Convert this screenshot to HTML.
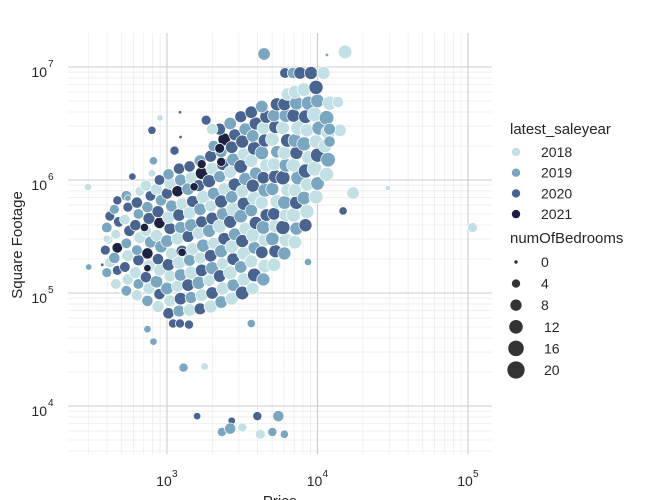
<!DOCTYPE html>
<html><head><meta charset="utf-8">
<style>
body{margin:0;background:#fff;}
svg{display:block;font-family:"Liberation Sans",Arial,sans-serif;}
</style></head>
<body>
<svg id="chart" width="650" height="500" viewBox="0 0 650 500">
  <g id="grid"></g>
  <g id="points"></g>
  <g id="axes"></g>
  <text x="0" y="0" transform="translate(22,245) rotate(-90)" text-anchor="middle" font-size="15" fill="#262626">Square Footage</text>
  <text x="280" y="506" text-anchor="middle" font-size="15" fill="#262626">Price</text>
  <g id="legend"></g>
</svg>
<script>
const logPrice = [
2.60,2.62,2.59,2.61,2.60,2.62,
2.66,2.67,2.65,2.67,2.66,2.68,2.65,2.67,
2.73,2.74,2.72,2.74,2.73,2.75,2.72,2.74,2.73,
2.80,2.81,2.79,2.81,2.80,2.82,2.79,2.81,2.80,2.82,
2.87,2.88,2.86,2.88,2.87,2.89,2.86,2.88,2.87,2.89,2.86,
2.94,2.95,2.93,2.95,2.94,2.96,2.93,2.95,2.94,2.96,2.93,2.95,
3.01,3.02,3.00,3.02,3.01,3.03,3.00,3.02,3.01,3.03,3.00,3.02,3.01,
3.08,3.09,3.07,3.09,3.08,3.10,3.07,3.09,3.08,3.10,3.07,3.09,3.08,
3.15,3.16,3.14,3.16,3.15,3.17,3.14,3.16,3.15,3.17,3.14,3.16,3.15,
3.22,3.23,3.21,3.23,3.22,3.24,3.21,3.23,3.22,3.24,3.21,3.23,3.22,
3.29,3.30,3.28,3.30,3.29,3.31,3.28,3.30,3.29,3.31,3.28,3.30,3.29,3.31,
3.36,3.37,3.35,3.37,3.36,3.38,3.35,3.37,3.36,3.38,3.35,3.37,3.36,3.38,3.35,
3.43,3.44,3.42,3.44,3.43,3.45,3.42,3.44,3.43,3.45,3.42,3.44,3.43,3.45,3.42,
3.50,3.51,3.49,3.51,3.50,3.52,3.49,3.51,3.50,3.52,3.49,3.51,3.50,3.52,3.49,
3.57,3.58,3.56,3.58,3.57,3.59,3.56,3.58,3.57,3.59,3.56,3.58,3.57,3.59,3.56,
3.64,3.65,3.63,3.65,3.64,3.66,3.63,3.65,3.64,3.66,3.63,3.65,3.64,3.66,3.63,
3.71,3.72,3.70,3.72,3.71,3.73,3.70,3.72,3.71,3.73,3.70,3.72,3.71,3.73,
3.78,3.79,3.77,3.79,3.78,3.80,3.77,3.79,3.78,3.80,3.77,3.79,3.78,3.80,
3.85,3.86,3.84,3.86,3.85,3.87,3.84,3.86,3.85,3.87,3.84,3.86,3.85,
3.92,3.93,3.91,3.93,3.92,3.94,3.91,3.93,3.92,3.94,3.91,
3.99,4.00,3.98,4.00,3.99,4.01,3.98,4.00,3.99,
4.06,4.07,4.05,4.07,4.06,4.08,
3.645,4.063,4.183,3.784,3.837,3.884,3.957,4.04,4.136,4.15,4.08,4.08,4.236,4.17,4.468,5.03,3.937,
2.475,2.48,2.57,2.9,2.953,3.086,3.26,3.3,3.05,2.91,2.9,3.09,2.77,2.74,2.6,
2.87,3.04,3.086,3.146,3.56,2.91,3.11,3.25,3.2,3.43,3.6,3.74,3.365,3.42,3.5,3.62,3.7,3.78,
3.35,3.23,3.36,3.18,2.85,3.1,2.87
];
const logSqft = [
5.18,5.27,5.38,5.47,5.58,5.68,
5.08,5.2,5.31,5.4,5.52,5.63,5.74,5.82,
5.02,5.12,5.23,5.33,5.44,5.55,5.65,5.76,5.86,
4.98,5.08,5.18,5.29,5.38,5.49,5.6,5.7,5.8,5.9,
4.93,5.04,5.14,5.24,5.35,5.45,5.55,5.66,5.76,5.86,5.95,
4.88,4.99,5.1,5.2,5.3,5.41,5.51,5.62,5.72,5.82,5.92,6.0,
4.82,4.93,5.04,5.15,5.25,5.35,5.46,5.57,5.67,5.77,5.88,5.97,6.05,
4.84,4.95,5.06,5.16,5.27,5.37,5.48,5.58,5.69,5.79,5.9,6.0,6.1,
4.85,4.96,5.07,5.18,5.29,5.39,5.5,5.6,5.71,5.81,5.92,6.02,6.12,
4.86,4.98,5.09,5.2,5.31,5.42,5.53,5.63,5.74,5.85,5.95,6.06,6.17,
4.88,5.0,5.11,5.22,5.33,5.44,5.55,5.66,5.77,5.88,5.99,6.1,6.21,6.3,
4.92,5.04,5.15,5.26,5.37,5.48,5.59,5.7,5.81,5.92,6.03,6.14,6.25,6.36,6.45,
4.95,5.07,5.18,5.3,5.41,5.52,5.63,5.74,5.85,5.96,6.07,6.18,6.29,6.4,6.5,
5.0,5.12,5.23,5.35,5.46,5.57,5.68,5.79,5.9,6.01,6.12,6.23,6.34,6.45,6.56,
5.04,5.16,5.28,5.4,5.51,5.62,5.73,5.84,5.95,6.06,6.17,6.28,6.39,6.5,6.6,
5.12,5.24,5.36,5.47,5.58,5.69,5.8,5.91,6.02,6.13,6.24,6.35,6.46,6.56,6.65,
5.25,5.37,5.48,5.59,5.7,5.81,5.92,6.03,6.14,6.25,6.36,6.47,6.57,6.67,
5.35,5.47,5.58,5.69,5.8,5.91,6.02,6.13,6.24,6.35,6.46,6.57,6.67,6.76,
5.45,5.57,5.69,5.8,5.91,6.02,6.13,6.24,6.35,6.46,6.57,6.68,6.78,
5.6,5.72,5.84,5.96,6.08,6.2,6.32,6.44,6.56,6.68,6.8,
5.85,5.97,6.1,6.22,6.34,6.46,6.58,6.7,6.82,
6.05,6.18,6.3,6.42,6.55,6.68,
7.115,7.106,7.133,6.947,6.947,6.947,6.947,6.947,6.69,6.44,6.45,6.34,5.885,5.726,5.93,5.58,5.274,
5.938,5.23,5.25,6.44,6.55,6.6,6.53,6.45,6.26,6.17,6.06,6.38,6.03,5.84,5.48,
4.68,4.73,4.73,4.72,4.73,4.57,4.34,4.35,3.91,3.87,3.91,3.91,3.77,3.8,3.81,3.75,3.77,3.75,
6.28,6.14,6.16,5.94,5.58,5.36,5.22
];
const saleYear = [
2019,2018,2020,2018,2019,2020,
2018,2020,2019,2021,2018,2020,2019,2020,
2019,2018,2020,2018,2019,2020,2018,2020,2019,
2018,2019,2018,2020,2019,2018,2020,2019,2020,2018,
2019,2018,2020,2018,2021,2019,2018,2020,2019,2020,2018,
2018,2020,2019,2018,2020,2019,2018,2021,2020,2019,2018,2020,
2020,2018,2019,2018,2020,2018,2019,2020,2018,2019,2020,2018,2019,
2019,2020,2018,2019,2018,2020,2018,2019,2020,2018,2021,2019,2020,
2018,2019,2020,2018,2019,2018,2020,2019,2018,2020,2019,2018,2020,
2020,2018,2019,2020,2018,2019,2018,2020,2019,2018,2020,2021,2019,
2018,2020,2018,2019,2020,2018,2019,2020,2018,2019,2020,2018,2020,2019,
2019,2018,2020,2018,2019,2020,2018,2019,2020,2018,2019,2020,2019,2021,2020,
2018,2019,2018,2020,2018,2019,2020,2018,2019,2020,2018,2019,2020,2020,2019,
2020,2018,2019,2018,2020,2018,2019,2020,2018,2019,2020,2018,2020,2019,2020,
2018,2020,2018,2019,2018,2020,2019,2018,2020,2019,2018,2020,2019,2020,2020,
2019,2018,2020,2018,2019,2020,2018,2019,2020,2018,2019,2020,2018,2020,2019,
2018,2020,2019,2018,2020,2018,2019,2020,2018,2019,2018,2020,2019,2020,
2019,2018,2020,2018,2019,2018,2020,2019,2018,2020,2018,2019,2020,2018,
2018,2019,2018,2020,2018,2019,2018,2020,2019,2018,2020,2019,2018,
2020,2018,2019,2018,2020,2018,2019,2018,2020,2019,2018,
2018,2019,2018,2020,2018,2019,2018,2019,2020,
2018,2019,2018,2018,2019,2018,
2019,2019,2018,2020,2019,2020,2020,2018,2018,2018,2019,2019,2018,2020,2018,2018,2019,
2018,2019,2020,2020,2018,2020,2020,2018,2020,2019,2018,2020,2020,2019,2018,
2019,2020,2020,2020,2019,2019,2019,2018,2020,2020,2020,2019,2019,2019,2018,2018,2019,2019,
2021,2021,2021,2021,2021,2021,2021
];
const bedrooms = [
6,7,6,5,7,6,
7,6,8,7,6,7,6,5,
7,8,7,9,7,8,7,6,7,
8,7,9,8,7,9,8,7,8,6,
8,9,8,10,8,9,8,9,8,7,8,
9,8,10,9,8,10,9,8,9,8,9,7,
8,9,10,9,10,9,10,9,10,9,8,9,8,
9,10,9,10,11,9,10,9,10,9,8,9,8,
10,9,10,11,9,10,9,11,10,9,10,9,8,
9,10,11,10,9,11,10,9,10,11,9,10,9,
11,10,9,11,10,9,11,10,9,10,11,10,9,8,
10,11,10,9,11,10,12,10,11,10,9,10,9,10,9,
11,10,12,10,11,10,11,12,10,11,10,11,10,9,10,
12,11,10,12,11,10,12,11,10,11,12,10,11,10,9,
10,12,11,10,12,11,10,12,11,10,11,12,10,11,10,
11,12,10,11,12,10,11,12,10,11,12,11,10,11,10,
12,11,12,11,10,12,11,12,11,10,12,11,10,11,
11,12,13,11,12,11,13,12,11,12,11,12,11,10,
12,11,13,12,11,13,12,11,12,13,11,12,11,
11,13,12,11,13,12,13,11,12,13,12,
13,12,14,13,12,13,14,12,13,
13,14,12,13,14,13,
10,0,12,7,8,10,11,11,8,10,9,8,10,4,1,6,3,
3,2,0,4,2,0,6,8,5,4,3,0,3,2,3,
3,5,5,5,4,3,5,3,3,3,5,8,5,8,5,6,5,4,
6,5,5,4,4,4,3
];
const yearLevels = [2018, 2019, 2020, 2021];
const bedLevels = [0, 4, 8, 12, 16, 20];
const xTickExp = [3, 4, 5];
const yTickExp = [7, 6, 5, 4];

const NS = "http://www.w3.org/2000/svg";
const colors = {2018:"#c3e0e4", 2019:"#7aa6c0", 2020:"#48648f", 2021:"#1d2240"};
const X0 = 68, X1 = 492, Y0 = 33, Y1 = 454;
function xScale(lp){ return 167 + (lp - 3) * 150.5; }
function yScale(ls){ return 67 + (7 - ls) * 113; }
function rScale(b){ return Math.sqrt(3 + 3.6 * b); }
function mk(tag, attrs, parent){
  const e = document.createElementNS(NS, tag);
  for (const k in attrs) e.setAttribute(k, attrs[k]);
  parent.appendChild(e);
  return e;
}
const grid = document.getElementById('grid');
const lpMin = (X0 - 167) / 150.5 + 3, lpMax = (X1 - 167) / 150.5 + 3;
const lsMax = 7 - (Y0 - 67) / 113, lsMin = 7 - (Y1 - 67) / 113;
for (let d = 2; d <= 5; d++) {
  for (let m = 2; m <= 9; m++) {
    const v = d + Math.log10(m);
    if (v > lpMin && v < lpMax) {
      const l = mk('line', {x1: xScale(v), x2: xScale(v), y1: Y0, y2: Y1, stroke: '#ececec', 'stroke-width': 0.8}, grid);
      
      
    }
  }
}
for (let d = 3; d <= 7; d++) {
  for (let m = 2; m <= 9; m++) {
    const v = d + Math.log10(m);
    if (v > lsMin && v < lsMax) {
      const l = mk('line', {x1: X0, x2: X1, y1: yScale(v), y2: yScale(v), stroke: '#ececec', 'stroke-width': 0.8}, grid);
      
      
    }
  }
}
const axes = document.getElementById('axes');
xTickExp.forEach(e => {
  const l = mk('line', {x1: xScale(e), x2: xScale(e), y1: Y0, y2: Y1, stroke: '#cccccc', 'stroke-width': 1.1}, grid);
  
  
  const t = mk('text', {x: xScale(e) - 3, y: 486, 'text-anchor': 'middle', 'font-size': 14, fill: '#262626'}, axes);
  
  
  t.textContent = '10';
  const s = mk('text', {x: xScale(e) + 5, y: 477, 'font-size': 10, fill: '#262626'}, axes);
  
  
  s.textContent = String(e);
});
yTickExp.forEach(e => {
  const l = mk('line', {x1: X0, x2: X1, y1: yScale(e), y2: yScale(e), stroke: '#cccccc', 'stroke-width': 1.1}, grid);
  
  
  const t = mk('text', {x: 47, y: yScale(e) + 10, 'text-anchor': 'end', 'font-size': 14, fill: '#262626'}, axes);
  
  
  t.textContent = '10';
  const s = mk('text', {x: 48, y: yScale(e), 'font-size': 10, fill: '#262626'}, axes);
  
  
  s.textContent = String(e);
});
const pts = document.getElementById('points');
for (let i = 0; i < logPrice.length; i++) {
  const c = mk('circle', {cx: xScale(logPrice[i]), cy: yScale(logSqft[i]), r: rScale(bedrooms[i]), fill: colors[saleYear[i]], stroke: '#ffffff', 'stroke-width': 0.7}, pts);
  
  
}
const lg = document.getElementById('legend');
const t1 = mk('text', {x: 510, y: 134, 'font-size': 15, fill: '#262626'}, lg);


t1.textContent = 'latest_saleyear';
yearLevels.forEach((y, i) => {
  const cy = 152 + i * 20.7;
  const c = mk('circle', {cx: 516, cy: cy, r: 4.2, fill: colors[y]}, lg);
  
  
  const t = mk('text', {x: 541, y: cy + 5, 'font-size': 14, fill: '#262626'}, lg);
  
  
  t.textContent = String(y);
});
const t2 = mk('text', {x: 510, y: 243, 'font-size': 15, fill: '#262626'}, lg);


t2.textContent = 'numOfBedrooms';
bedLevels.forEach((b, i) => {
  const cy = 262 + i * 21.6;
  const c = mk('circle', {cx: 516, cy: cy, r: rScale(b), fill: '#333333'}, lg);
  
  
  const t = mk('text', {x: b < 10 ? 541 : 544, y: cy + 5, 'font-size': 14, fill: '#262626'}, lg);
  
  
  t.textContent = String(b);
});
</script>
</body></html>
